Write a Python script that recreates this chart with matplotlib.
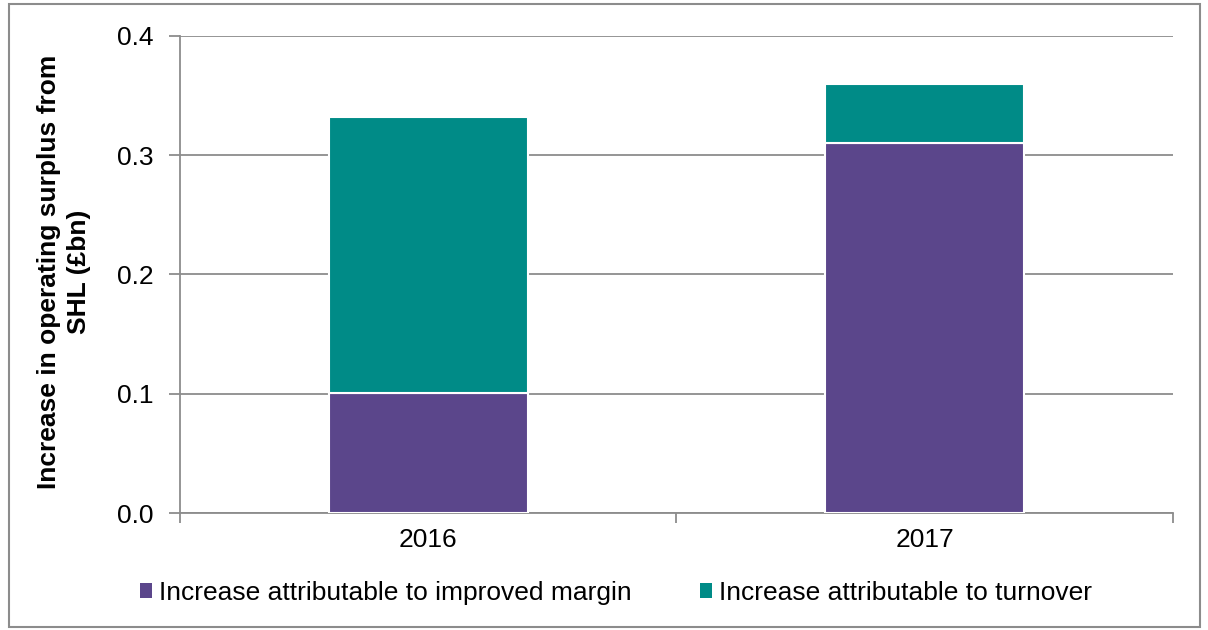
import matplotlib
matplotlib.use("Agg")
import matplotlib.pyplot as plt
from matplotlib.patches import Rectangle, Patch
import numpy as np

plt.rcParams['font.family'] = ['Liberation Sans', 'DejaVu Sans']

categories = ["2016", "2017"]
margin_vals = [0.101, 0.310]
turnover_vals = [0.231, 0.050]
series_labels = ["Increase attributable to improved margin", "Increase attributable to turnover"]
yticks = [0.0, 0.1, 0.2, 0.3, 0.4]
ylabel = "Increase in operating surplus from\nSHL (£bn)"

purple = "#5B468B"
teal = "#008B87"
grid_c = "#8C8C8C"
FS = 19

fig = plt.figure(figsize=(12.08, 6.30), dpi=100)
fig.patches.append(Rectangle((0.0075, 0.004), 0.986, 0.99, transform=fig.transFigure,
                             fill=False, edgecolor="#8C8C8C", linewidth=1.5))
ax = fig.add_axes([0.149, 0.1857, 0.822, 0.7572])

x = np.arange(len(categories))
ax.bar(x, margin_vals, width=0.4, color=purple, edgecolor="white", linewidth=1.5, zorder=3)
ax.bar(x, turnover_vals, bottom=margin_vals, width=0.4, color=teal, edgecolor="white", linewidth=1.5, zorder=3)

ax.set_xlim(-0.5, 1.5)
ax.set_ylim(0, 0.4)
ax.set_yticks(yticks)
ax.set_yticklabels([f"{v:.1f}" for v in yticks])
ax.yaxis.grid(True, color=grid_c, linewidth=1.3, zorder=0)
ax.set_axisbelow(True)
for s in ["top", "right"]:
    ax.spines[s].set_visible(False)
ax.spines["left"].set_color(grid_c)
ax.spines["left"].set_linewidth(1.3)
ax.spines["bottom"].set_color(grid_c)
ax.spines["bottom"].set_linewidth(1.3)

ax.set_xticks(x)
ax.set_xticklabels(categories)
ax.tick_params(axis="x", length=0, labelsize=FS, pad=11)
ax.set_xticks([-0.5, 0.5, 1.5], minor=True)
ax.tick_params(axis="x", which="minor", length=7, color=grid_c, width=1.3)
ax.tick_params(axis="y", length=8, color=grid_c, width=1.3, labelsize=FS, pad=11)

fig.text(0.053, 0.568, ylabel, rotation=90, ha="center", va="center",
         fontsize=FS, fontweight="bold", linespacing=1.3)

handles = [Patch(facecolor=purple, edgecolor="none"), Patch(facecolor=teal, edgecolor="none")]
fig.legend(handles, series_labels, loc="center", bbox_to_anchor=(0.510, 0.059), ncol=2,
           frameon=False, fontsize=FS, handlelength=0.45, handleheight=0.45,
           handletextpad=0.27, columnspacing=2.58, borderpad=0, borderaxespad=0)

fig.savefig("out.png", dpi=100)
